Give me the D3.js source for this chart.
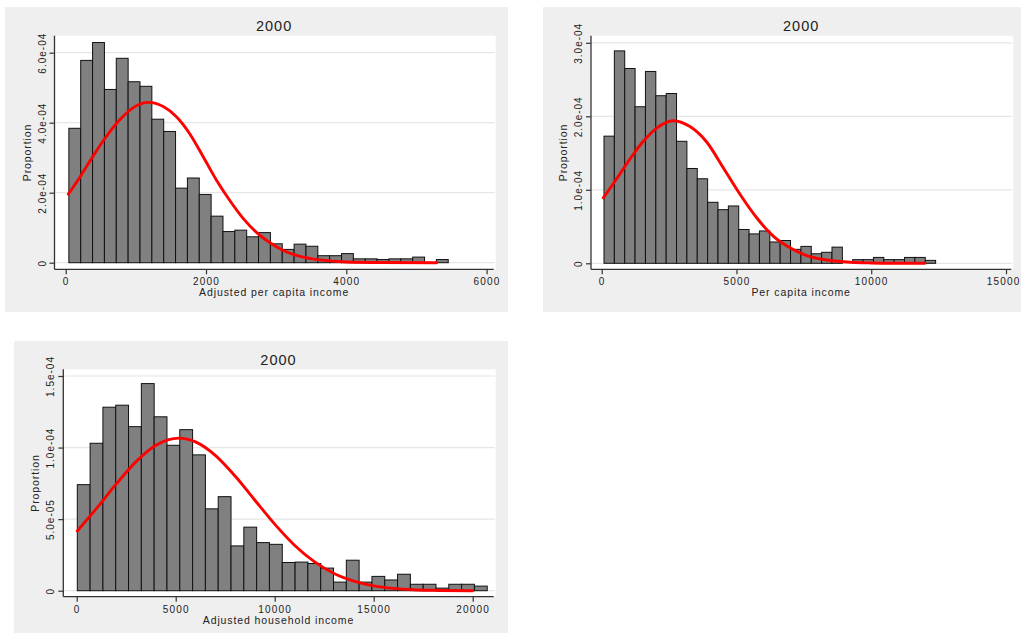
<!DOCTYPE html>
<html>
<head>
<meta charset="utf-8">
<script src="https://cdn.jsdelivr.net/npm/d3@7"></script>
<style>
  body { margin: 0; background: #ffffff; }
  svg { display: block; }
  text { font-family: "Liberation Sans", Arial, sans-serif; fill: #222; }
</style>
</head>
<body>
<div id="chart"></div>
<script>
// Panel 1 : adjusted per capita income
const title1 = "2000";
const xLabel1 = "Adjusted per capita income";
const binStart1 = 45, binWidth1 = 169;
const density1 = [3.84, 5.78, 6.29, 4.95, 5.84, 5.17, 5.04, 4.10, 3.75, 2.13, 2.42, 1.95, 1.33, 0.89, 0.93, 0.74,
  0.86, 0.54, 0.38, 0.53, 0.47, 0.20, 0.20, 0.26, 0.11, 0.11, 0.09, 0.11, 0.11, 0.16, 0, 0.09].map(v => v * 1e-4);
const curveX1 = [37, 204, 394, 584, 774, 964, 1178, 1391, 1582, 1772, 1962, 2152, 2342, 2532, 2723, 2912, 3102, 3340, 3625, 4000, 4500, 5290];
const curveY1 = [1.96, 2.45, 3.06, 3.62, 4.09, 4.43, 4.58, 4.46, 4.16, 3.67, 3.02, 2.35, 1.77, 1.26, 0.86, 0.57, 0.35, 0.18, 0.08, 0.02, 0.004, 0].map(v => v * 1e-4);
const xTicks1 = [0, 2000, 4000, 6000];
const yTicks1 = [0, 2e-4, 4e-4, 6e-4];
const yTickLabels1 = ["0", "2.0e-04", "4.0e-04", "6.0e-04"];

// Panel 2 : per capita income
const title2 = "2000";
const xLabel2 = "Per capita income";
const binStart2 = 85, binWidth2 = 384.5;
const density2 = [1.73, 2.89, 2.65, 2.13, 2.61, 2.28, 2.31, 1.66, 1.29, 1.15, 0.83, 0.73, 0.78, 0.46, 0.40, 0.44,
  0.29, 0.31, 0.19, 0.23, 0.13, 0.15, 0.22, 0, 0.05, 0.05, 0.08, 0.05, 0.05, 0.08, 0.08, 0.04].map(v => v * 1e-4);
const curveX2 = [59, 556, 1050, 1543, 2040, 2656, 3275, 3895, 4510, 5130, 5750, 6365, 6985, 7604, 8346, 9088, 10000, 11000, 11990];
const curveY2 = [0.89, 1.15, 1.42, 1.66, 1.84, 1.94, 1.86, 1.65, 1.30, 0.94, 0.62, 0.37, 0.21, 0.105, 0.045, 0.017, 0.005, 0.001, 0].map(v => v * 1e-4);
const xTicks2 = [0, 5000, 10000, 15000];
const yTicks2 = [0, 1e-4, 2e-4, 3e-4];
const yTickLabels2 = ["0", "1.0e-04", "2.0e-04", "3.0e-04"];

// Panel 3 : adjusted household income
const title3 = "2000";
const xLabel3 = "Adjusted household income";
const binStart3 = 30, binWidth3 = 647;
const density3 = [7.41, 10.30, 12.82, 12.96, 11.46, 14.47, 12.15, 10.16, 11.25, 9.49, 5.72, 6.57, 3.13, 4.44, 3.36, 3.24,
  1.97, 2.00, 1.90, 1.58, 0.60, 2.13, 0.60, 1.00, 0.75, 1.15, 0.45, 0.45, 0.18, 0.45, 0.45, 0.32].map(v => v * 1e-5);
const curveX3 = [30, 1000, 2000, 3000, 4000, 5167, 6000, 7000, 8000, 9000, 10000, 11000, 12000, 13000, 14000, 15000, 16000, 17000, 18000, 20000];
const curveY3 = [4.17, 5.75, 7.46, 9.02, 10.16, 10.66, 10.40, 9.46, 8.01, 6.32, 4.65, 3.18, 2.03, 1.20, 0.67, 0.34, 0.16, 0.07, 0.03, 0].map(v => v * 1e-5);
const xTicks3 = [0, 5000, 10000, 15000, 20000];
const yTicks3 = [0, 5e-5, 1e-4, 1.5e-4];
const yTickLabels3 = ["0", "5.0e-05", "1.0e-04", "1.5e-04"];

const yLabel = "Proportion";

const W = 1021, H = 634;

let svg = d3.select("#chart")
  .append("svg")
  .attr("width", W)
  .attr("height", H);

function drawPanel(p) {
  let g = svg.append("g");

  // grey graph region
  g.append("rect")
    .attr("x", p.box[0]).attr("y", p.box[1])
    .attr("width", p.box[2]).attr("height", p.box[3])
    .attr("fill", "#efefef");

  // white plot region
  g.append("rect")
    .attr("x", p.left).attr("y", p.top)
    .attr("width", p.right - p.left).attr("height", p.bottom - p.top)
    .attr("fill", "#ffffff");

  let x = d3.scaleLinear().domain(p.xDomain).range(p.xRange);
  let y = d3.scaleLinear().domain(p.yDomain).range(p.yRange);

  // gridlines
  g.append("g")
    .selectAll("line")
    .data(p.yTicks)
    .enter()
    .append("line")
    .attr("x1", p.left + 1).attr("x2", p.right - 1)
    .attr("y1", d => y(d)).attr("y2", d => y(d))
    .attr("stroke", "#e6e6e6")
    .attr("stroke-width", 1.2);

  // histogram bars
  let bins = p.density.map((d, i) => ({ x0: p.binStart + i * p.binWidth, x1: p.binStart + (i + 1) * p.binWidth, v: d }))
    .filter(b => b.v > 0);

  g.append("g")
    .selectAll("rect")
    .data(bins)
    .enter()
    .append("rect")
    .attr("x", d => x(d.x0))
    .attr("y", d => y(d.v))
    .attr("width", d => x(d.x1) - x(d.x0))
    .attr("height", d => y(0) - y(d.v))
    .attr("fill", "#808080")
    .attr("stroke", "#111")
    .attr("stroke-width", 1);

  // normal density curve
  let line = d3.line()
    .x(d => x(d[0]))
    .y(d => y(d[1]))
    .curve(d3.curveMonotoneX);

  g.append("path")
    .datum(d3.zip(p.curveX, p.curveY))
    .attr("d", line)
    .attr("fill", "none")
    .attr("stroke", "#ff0000")
    .attr("stroke-width", 2.9)
    .attr("stroke-linecap", "round");

  // axis lines
  g.append("line")
    .attr("x1", p.left).attr("x2", p.left)
    .attr("y1", p.top).attr("y2", p.bottom)
    .attr("stroke", "#333").attr("stroke-width", 1.3);
  g.append("line")
    .attr("x1", p.left).attr("x2", p.right - 2)
    .attr("y1", p.bottom).attr("y2", p.bottom)
    .attr("stroke", "#333").attr("stroke-width", 1.3);

  // Y axis ticks
  let yAxis = g.append("g")
    .attr("transform", "translate(" + p.left + ",0)")
    .call(d3.axisLeft(y).tickValues(p.yTicks).tickSize(5).tickFormat((d, i) => p.yTickLabels[i]));
  yAxis.select(".domain").remove();
  yAxis.selectAll("line").attr("stroke", "#333").attr("stroke-width", 1.2);
  yAxis.selectAll("text")
    .attr("x", 0)
    .attr("y", -12.5)
    .attr("dy", "0.35em")
    .attr("text-anchor", "middle")
    .attr("transform", "rotate(-90)")
    .style("font-size", "10px")
    .style("letter-spacing", "1px")
    .style("font-family", "Liberation Sans, Arial, sans-serif")
    .attr("fill", "#222");

  // X axis ticks
  let xAxis = g.append("g")
    .attr("transform", "translate(0," + p.bottom + ")")
    .call(d3.axisBottom(x).tickValues(p.xTicks).tickSize(5).tickFormat(d3.format("d")));
  xAxis.select(".domain").remove();
  xAxis.selectAll("line").attr("stroke", "#333").attr("stroke-width", 1.2);
  xAxis.selectAll("text")
    .attr("y", 12.4)
    .attr("dy", "0.35em")
    .style("font-size", "10px")
    .style("letter-spacing", "1.2px")
    .style("font-family", "Liberation Sans, Arial, sans-serif")
    .attr("fill", "#222");

  // keep tick labels inside the window
  xAxis.selectAll(".tick").each(function (d) {
    let t = d3.select(this).select("text");
    let bb = t.node().getBBox();
    let right = x(d) + bb.x + bb.width;
    if (right > W - 1) t.attr("x", W - 1 - right);
  });

  let mid = (p.left + p.right) / 2 - 1;

  // title
  g.append("text")
    .attr("x", mid)
    .attr("y", p.box[1] + 19)
    .attr("dy", "0.35em")
    .attr("text-anchor", "middle")
    .style("font-size", "14.5px")
    .style("letter-spacing", "1px")
    .text(p.title);

  // X axis label
  g.append("text")
    .attr("x", mid)
    .attr("y", p.bottom + 23.4)
    .attr("dy", "0.35em")
    .attr("text-anchor", "middle")
    .style("font-size", "10.5px")
    .style("letter-spacing", "0.9px")
    .text(p.xLabel);

  // Y axis label
  g.append("text")
    .attr("transform", "rotate(-90)")
    .attr("x", -(p.top + p.bottom) / 2)
    .attr("y", p.left - 27.5)
    .attr("dy", "0.35em")
    .attr("text-anchor", "middle")
    .style("font-size", "10.5px")
    .style("letter-spacing", "0.9px")
    .text(yLabel);
}

drawPanel({
  box: [5, 7, 503, 305], left: 54.5, right: 495.7, top: 35.7, bottom: 269.3,
  xDomain: [0, 6000], xRange: [65.7, 486.6], yDomain: [0, 6e-4], yRange: [262.7, 52.7],
  title: title1, xLabel: xLabel1, binStart: binStart1, binWidth: binWidth1, density: density1,
  curveX: curveX1, curveY: curveY1, xTicks: xTicks1, yTicks: yTicks1, yTickLabels: yTickLabels1
});

drawPanel({
  box: [543, 7, 478, 305], left: 591, right: 1013.3, top: 35.7, bottom: 269.3,
  xDomain: [0, 15000], xRange: [601.7, 1006], yDomain: [0, 3e-4], yRange: [263.3, 42.8],
  title: title2, xLabel: xLabel2, binStart: binStart2, binWidth: binWidth2, density: density2,
  curveX: curveX2, curveY: curveY2, xTicks: xTicks2, yTicks: yTicks2, yTickLabels: yTickLabels2
});

drawPanel({
  box: [14, 341, 494, 292], left: 63.3, right: 495.7, top: 369.3, bottom: 596.7,
  xDomain: [0, 20000], xRange: [76.7, 472.7], yDomain: [0, 1.5e-4], yRange: [590.7, 376],
  title: title3, xLabel: xLabel3, binStart: binStart3, binWidth: binWidth3, density: density3,
  curveX: curveX3, curveY: curveY3, xTicks: xTicks3, yTicks: yTicks3, yTickLabels: yTickLabels3
});
</script>
</body>
</html>
